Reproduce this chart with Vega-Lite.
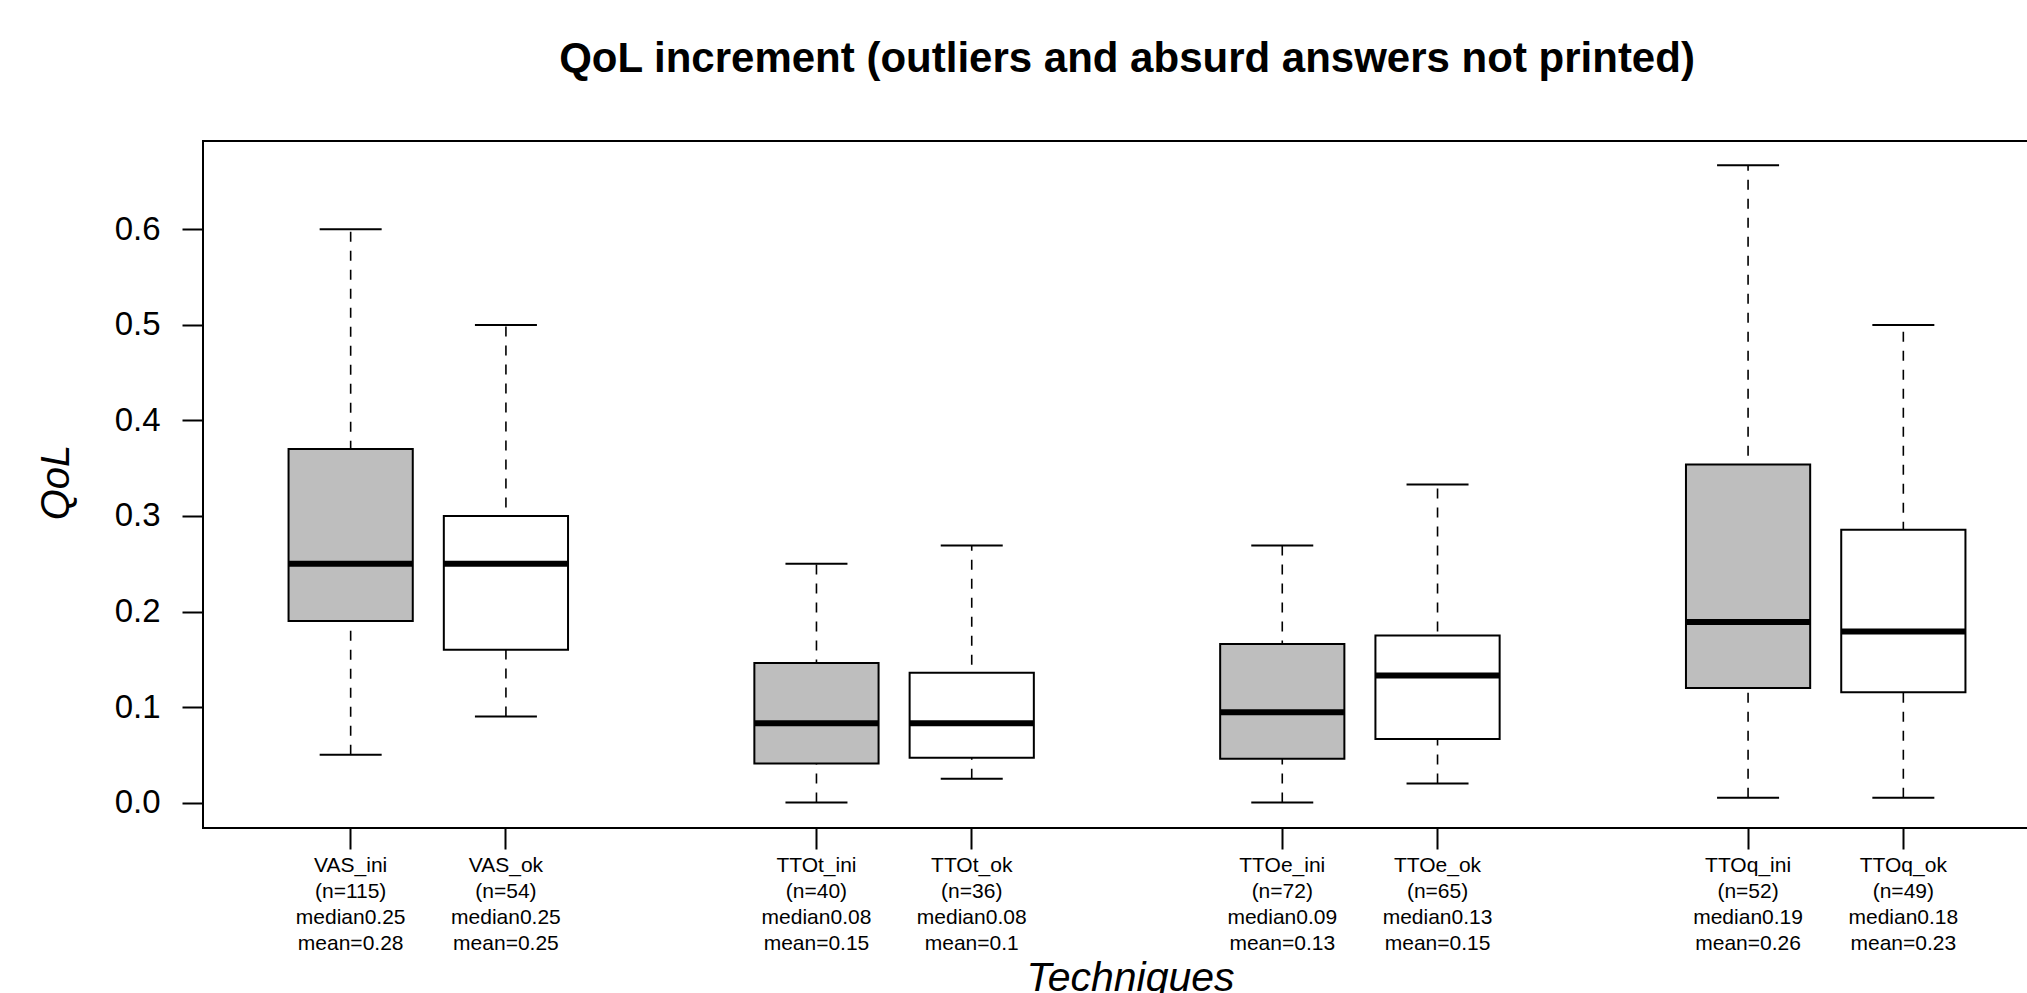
{
  "$schema": "https://vega.github.io/schema/vega-lite/v6.json",
  "autosize": {"type": "none"},
  "width": 1848,
  "height": 687,
  "padding": {"left": 203, "top": 141, "right": -24, "bottom": 165},
  "background": "white",
  "config": {
    "font": "Liberation Sans",
    "view": {"stroke": "black", "strokeWidth": 2}
  },
  "title": {
    "text": "QoL increment (outliers and absurd answers not printed)",
    "font": "Liberation Sans",
    "fontSize": 42,
    "fontWeight": "bold",
    "color": "black",
    "anchor": "middle",
    "baseline": "alphabetic",
    "offset": 27
  },
  "data": {
    "values": [
      {"cat": "VAS_ini|(n=115)|median0.25|mean=0.28", "grp": "ini", "lo": 0.05, "q1": 0.19, "med": 0.25, "q3": 0.37, "hi": 0.6},
      {"cat": "VAS_ok|(n=54)|median0.25|mean=0.25", "grp": "ok", "lo": 0.09, "q1": 0.16, "med": 0.25, "q3": 0.30, "hi": 0.5},
      {"cat": "TTOt_ini|(n=40)|median0.08|mean=0.15", "grp": "ini", "lo": 0.0, "q1": 0.041, "med": 0.083, "q3": 0.146, "hi": 0.25},
      {"cat": "TTOt_ok|(n=36)|median0.08|mean=0.1", "grp": "ok", "lo": 0.025, "q1": 0.047, "med": 0.083, "q3": 0.136, "hi": 0.269},
      {"cat": "TTOe_ini|(n=72)|median0.09|mean=0.13", "grp": "ini", "lo": 0.0, "q1": 0.046, "med": 0.0945, "q3": 0.166, "hi": 0.269},
      {"cat": "TTOe_ok|(n=65)|median0.13|mean=0.15", "grp": "ok", "lo": 0.02, "q1": 0.0666, "med": 0.133, "q3": 0.175, "hi": 0.333},
      {"cat": "TTOq_ini|(n=52)|median0.19|mean=0.26", "grp": "ini", "lo": 0.005, "q1": 0.12, "med": 0.189, "q3": 0.354, "hi": 0.667},
      {"cat": "TTOq_ok|(n=49)|median0.18|mean=0.23", "grp": "ok", "lo": 0.005, "q1": 0.1155, "med": 0.179, "q3": 0.2855, "hi": 0.5}
    ]
  },
  "encoding": {
    "x": {
      "field": "cat",
      "type": "nominal",
      "sort": null,
      "scale": {
        "type": "band",
        "domain": [
          "VAS_ini|(n=115)|median0.25|mean=0.28",
          "VAS_ok|(n=54)|median0.25|mean=0.25",
          "gap1",
          "TTOt_ini|(n=40)|median0.08|mean=0.15",
          "TTOt_ok|(n=36)|median0.08|mean=0.1",
          "gap2",
          "TTOe_ini|(n=72)|median0.09|mean=0.13",
          "TTOe_ok|(n=65)|median0.13|mean=0.15",
          "gap3",
          "TTOq_ini|(n=52)|median0.19|mean=0.26",
          "TTOq_ok|(n=49)|median0.18|mean=0.23"
        ],
        "paddingInner": 0,
        "paddingOuter": 0.451
      },
      "axis": {
        "values": [
          "VAS_ini|(n=115)|median0.25|mean=0.28",
          "VAS_ok|(n=54)|median0.25|mean=0.25",
          "TTOt_ini|(n=40)|median0.08|mean=0.15",
          "TTOt_ok|(n=36)|median0.08|mean=0.1",
          "TTOe_ini|(n=72)|median0.09|mean=0.13",
          "TTOe_ok|(n=65)|median0.13|mean=0.15",
          "TTOq_ini|(n=52)|median0.19|mean=0.26",
          "TTOq_ok|(n=49)|median0.18|mean=0.23"
        ],
        "labelExpr": "split(datum.label, '|')",
        "labelAngle": 0,
        "labelFont": "Liberation Sans",
        "labelFontSize": 21,
        "labelLineHeight": 26,
        "labelColor": "black",
        "labelPadding": 5,
        "labelOverlap": false,
        "labelLimit": 0,
        "tickSize": 21,
        "tickWidth": 2,
        "tickColor": "black",
        "domain": false,
        "grid": false,
        "title": "Techniques",
        "titleFont": "Liberation Sans",
        "titleFontSize": 41,
        "titleFontStyle": "italic",
        "titleFontWeight": "normal",
        "titleColor": "black",
        "titleBaseline": "alphabetic",
        "titleX": 927,
        "titleY": 162
      }
    },
    "y": {
      "type": "quantitative",
      "scale": {"domain": [-0.0266, 0.6925], "nice": false, "zero": false},
      "axis": {
        "values": [0, 0.1, 0.2, 0.3, 0.4, 0.5, 0.6],
        "format": ".1f",
        "labelFont": "Liberation Sans",
        "labelFontSize": 33,
        "labelColor": "black",
        "labelPadding": 22,
        "tickSize": 21,
        "tickWidth": 2,
        "tickColor": "black",
        "domain": false,
        "grid": false,
        "title": "QoL",
        "titleFont": "Liberation Sans",
        "titleFontSize": 40,
        "titleFontStyle": "italic",
        "titleFontWeight": "normal",
        "titleColor": "black",
        "titleBaseline": "alphabetic",
        "titleX": -135,
        "titleY": 341
      }
    }
  },
  "layer": [
    {
      "mark": {"type": "rule", "stroke": "black", "strokeWidth": 1.6, "strokeDash": [10, 9]},
      "encoding": {"y": {"field": "lo", "type": "quantitative"}, "y2": {"field": "hi"}}
    },
    {
      "mark": {"type": "tick", "color": "black", "size": 62, "thickness": 2, "opacity": 1},
      "encoding": {"y": {"field": "lo", "type": "quantitative"}}
    },
    {
      "mark": {"type": "tick", "color": "black", "size": 62, "thickness": 2, "opacity": 1},
      "encoding": {"y": {"field": "hi", "type": "quantitative"}}
    },
    {
      "mark": {"type": "bar", "width": {"band": 0.8}, "stroke": "black", "strokeWidth": 2, "opacity": 1},
      "encoding": {
        "y": {"field": "q1", "type": "quantitative"},
        "y2": {"field": "q3"},
        "fill": {"field": "grp", "type": "nominal", "scale": {"domain": ["ini", "ok"], "range": ["#bebebe", "#ffffff"]}, "legend": null}
      }
    },
    {
      "mark": {"type": "tick", "color": "black", "size": 124, "thickness": 6, "opacity": 1},
      "encoding": {"y": {"field": "med", "type": "quantitative"}}
    }
  ]
}
